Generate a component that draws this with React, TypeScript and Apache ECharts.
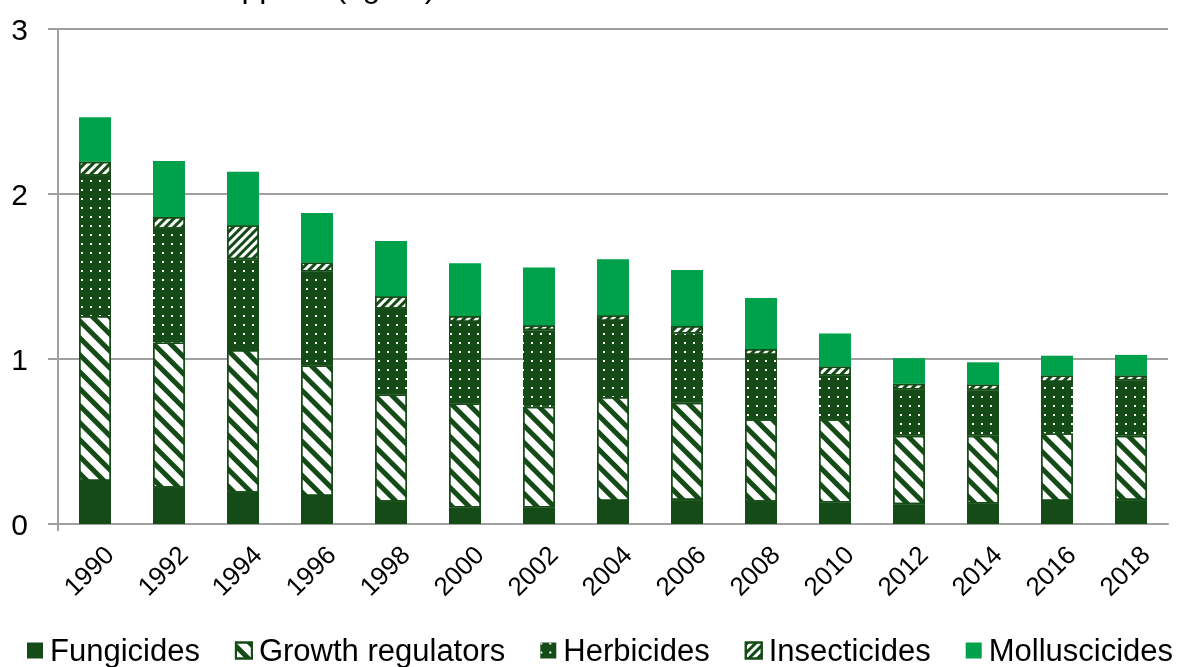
import React, { useEffect, useRef } from "react";
import * as echarts from "echarts";

const years = ["1990", "1992", "1994", "1996", "1998", "2000", "2002", "2004", "2006", "2008", "2010", "2012", "2014", "2016", "2018"];
const fungicides = [0.26, 0.22, 0.19, 0.17, 0.135, 0.1, 0.1, 0.14, 0.145, 0.135, 0.13, 0.12, 0.125, 0.14, 0.145];
const growthRegulators = [1.0, 0.88, 0.865, 0.79, 0.65, 0.63, 0.61, 0.63, 0.59, 0.5, 0.505, 0.415, 0.41, 0.41, 0.39];
const herbicides = [0.85, 0.69, 0.55, 0.57, 0.52, 0.495, 0.465, 0.46, 0.42, 0.39, 0.265, 0.28, 0.275, 0.31, 0.335];
const insecticides = [0.085, 0.07, 0.205, 0.055, 0.075, 0.035, 0.03, 0.035, 0.045, 0.035, 0.055, 0.035, 0.035, 0.04, 0.03];
const molluscicides = [0.27, 0.34, 0.325, 0.3, 0.335, 0.32, 0.35, 0.34, 0.34, 0.31, 0.2, 0.155, 0.135, 0.12, 0.125];
const seriesNames = ["Fungicides", "Growth regulators", "Herbicides", "Insecticides", "Molluscicides"];
const yMin = 0;
const yMax = 3;
const yStep = 1;
const titleText = "Pesticides applied (kg/ha)";

const DARK = "#144b16";
const BRIGHT = "#00a14b";
const GRID = "#a0a0a0";
const FONT = "Liberation Sans, Arial, sans-serif";

export default function App() {
  const ref = useRef<HTMLDivElement>(null);
  useEffect(() => {
    if (!ref.current) return;
    const chart = echarts.init(ref.current, undefined, { renderer: "svg" });
    const base = { type: "bar", stack: "total", barWidth: 32 };
    chart.setOption({
      animation: false,
      aria: { enabled: false },
      textStyle: { fontFamily: FONT },
      grid: { left: 58, right: 12, top: 29, bottom: 143, containLabel: false },
      graphic: [
        {
          type: "text",
          left: 69,
          top: -30,
          style: { text: titleText, fontSize: 32, fontFamily: FONT, fill: "#000" },
        },
        {
          type: "line",
          shape: { x1: 58, y1: 524, x2: 58, y2: 531 },
          style: { stroke: GRID, lineWidth: 2 },
        },
      ],
      legend: {
        top: 635,
        left: 27,
        padding: 0,
        itemWidth: 16,
        itemHeight: 16,
        itemGap: 35,
        icon: "rect",
        textStyle: { fontSize: 31, color: "#000", fontFamily: FONT, padding: [0, 0, 0, 2] },
        data: seriesNames,
      },
      xAxis: {
        type: "category",
        data: years,
        axisLine: { lineStyle: { color: GRID, width: 2 } },
        axisTick: { show: false },
        axisLabel: {
          rotate: 45,
          fontSize: 26,
          color: "#000",
          fontFamily: FONT,
          margin: 12,
          interval: 0,
          verticalAlign: "top",
          lineHeight: 40,
        },
      },
      yAxis: {
        type: "value",
        min: yMin,
        max: yMax,
        interval: yStep,
        axisLine: { show: true, lineStyle: { color: GRID, width: 2 } },
        axisTick: { show: true, length: 10, lineStyle: { color: GRID, width: 2 } },
        splitLine: { lineStyle: { color: GRID, width: 2 } },
        axisLabel: { fontSize: 30, color: "#000", fontFamily: FONT, margin: 30 },
      },
      series: [
        { ...base, name: seriesNames[0], data: fungicides, itemStyle: { color: DARK } },
        {
          ...base,
          name: seriesNames[1],
          data: growthRegulators,
          itemStyle: {
            color: "#ffffff",
            borderColor: DARK,
            borderWidth: 1.5,
            decal: { symbol: "rect", symbolSize: 1, color: DARK, dashArrayX: [1, 0], dashArrayY: [5, 7], rotation: Math.PI / 4 },
          },
        },
        {
          ...base,
          name: seriesNames[2],
          data: herbicides,
          itemStyle: {
            color: DARK,
            decal: { symbol: "rect", symbolSize: 1, color: "#ffffff", dashArrayX: [2, 6.5], dashArrayY: [2, 6.5], rotation: 0 },
          },
        },
        {
          ...base,
          name: seriesNames[3],
          data: insecticides,
          itemStyle: {
            color: "#ffffff",
            borderColor: DARK,
            borderWidth: 1.5,
            decal: { symbol: "rect", symbolSize: 1, color: DARK, dashArrayX: [1, 0], dashArrayY: [3, 3], rotation: -Math.PI / 4 },
          },
        },
        { ...base, name: seriesNames[4], data: molluscicides, itemStyle: { color: BRIGHT } },
      ],
    });
    return () => chart.dispose();
  }, []);
  return <div ref={ref} style={{ position: "fixed", left: 0, top: 0, width: 1180, height: 667 }} />;
}
